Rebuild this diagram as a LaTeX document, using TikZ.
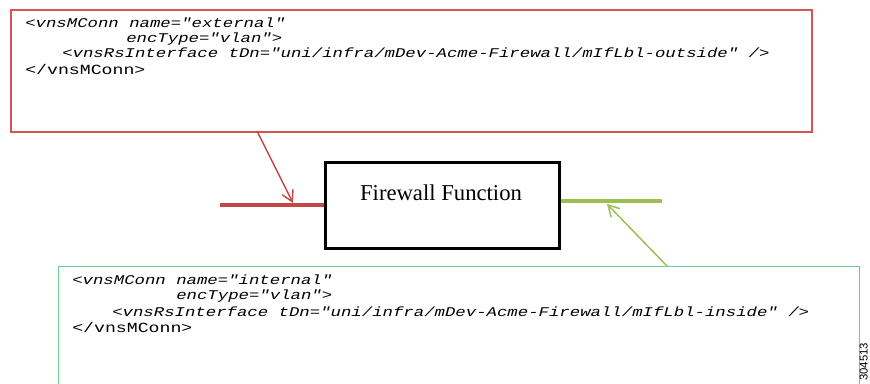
\documentclass[tikz,border=0pt]{standalone}
\usepackage{fontspec}
\setmainfont{Liberation Serif}
\newfontfamily\codefont{Liberation Mono}
\newfontfamily\labelfont{Liberation Sans}
\usepackage{graphicx}
\usepackage{tikz}
\usetikzlibrary{arrows.meta}
\usepackage{xcolor}
\definecolor{extcol}{RGB}{214,84,84}
\definecolor{extline}{RGB}{196,72,72}
\definecolor{intcol}{RGB}{112,204,150}
\definecolor{intline}{RGB}{156,190,82}
\newcommand{\codeln}[1]{\scalebox{1.3}[1.0]{#1}}
\tikzstyle{extbox}=[draw=extcol,line width=1.4pt,inner sep=0,anchor=north west]
\tikzstyle{intbox}=[draw=intcol,line width=1.1pt,inner sep=0,anchor=north west]
\tikzstyle{code}=[anchor=base west,inner sep=0,font=\codefont\itshape\fontsize{10}{12}\selectfont]
\tikzstyle{codeend}=[anchor=base west,inner sep=0,font=\codefont\fontsize{10.5}{12}\selectfont]
\tikzstyle{pointer}=[-{Straight Barb[length=8pt,width=9pt]},line width=1.1pt]

\begin{document}
\begin{tikzpicture}[x=0.75pt,y=-0.75pt]
  \clip (0,0) rectangle (870,384);
  \fill[white] (0,0) rectangle (870,384);

  % EXTERNAL CONNECTOR (801 x 122 px)
  \node[extbox,minimum width=600.75pt,minimum height=91.5pt] (ext) at (10,9) {};
  \node[code] (ext1) at (25,28) {\codeln{<vnsMConn name="external"}};
  \node[code] (ext2) at (126,43) {\codeln{encType="vlan">}};
  \node[code] (ext3) at (62,58) {\codeln{<vnsRsInterface tDn="uni/infra/mDev-Acme-Firewall/mIfLbl-outside" />}};
  \node[codeend] (ext4) at (25,75) {\codeln{</vnsMConn>}};

  % INTERNAL CONNECTOR (801 x 140 px)
  \node[intbox,minimum width=600.75pt,minimum height=105pt] (int) at (58,266) {};
  \node[code] (int1) at (72,285) {\codeln{<vnsMConn name="internal"}};
  \node[code] (int2) at (176,300) {\codeln{encType="vlan">}};
  \node[code] (int3) at (112,316) {\codeln{<vnsRsInterface tDn="uni/infra/mDev-Acme-Firewall/mIfLbl-inside" />}};
  \node[codeend] (int4) at (72,332) {\codeln{</vnsMConn>}};

  % FUNCTION (234 x 86 px)
  \node[draw,line width=2.3pt,minimum width=175.5pt,minimum height=64.5pt,
        anchor=north west,inner sep=0] (fw) at (324,161) {};
  \node[font=\fontsize{17}{20}\selectfont] (fwlabel) at (441,193) {Firewall Function};

  % LINKS
  \coordinate (extend) at (220,205);
  \coordinate (intend) at (662,201);
  \draw[extline,line width=3.2pt] (extend) -- (fw.west |- extend);
  \draw[intline,line width=3.6pt] (fw.east |- intend) -- (intend);

  % POINTERS
  \coordinate (exttail) at (257,131);
  \coordinate (exttip) at (293,203);
  \coordinate (inttail) at (667,266);
  \coordinate (inttip) at (607,204);
  \draw[pointer,extline] (exttail) -- (exttip);
  \draw[pointer,intline] (inttail) -- (inttip);

  \node[rotate=90,anchor=south west,inner sep=0,font=\labelfont\fontsize{8.5}{10}\selectfont] (figno) at (868,381) {304513};
\end{tikzpicture}
\end{document}
